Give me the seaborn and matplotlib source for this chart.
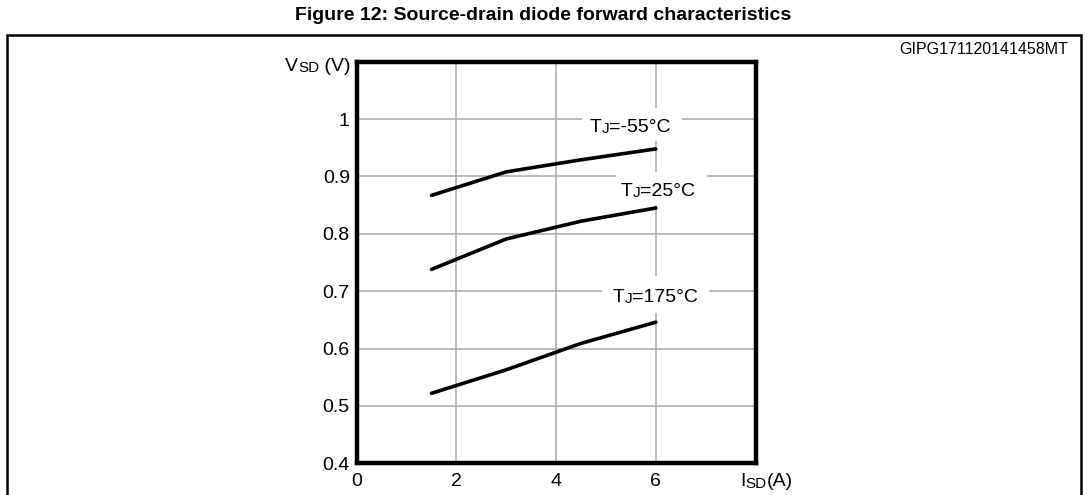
import matplotlib
matplotlib.use("Agg")
import matplotlib.pyplot as plt
from matplotlib.patches import Rectangle
import seaborn as sns
import pandas as pd

# ---- data ----
isd = [1.5, 3.0, 4.5, 6.0]
vsd_m55 = [0.867, 0.908, 0.929, 0.948]
vsd_25 = [0.738, 0.791, 0.822, 0.845]
vsd_175 = [0.522, 0.563, 0.609, 0.646]
series_names = ["-55", "25", "175"]
x_ticks = [0, 2, 4, 6]
y_ticks = [0.4, 0.5, 0.6, 0.7, 0.8, 0.9, 1.0]
y_tick_labels = ["0.4", "0.5", "0.6", "0.7", "0.8", "0.9", "1"]

df = pd.DataFrame({
    "ISD": isd * 3,
    "VSD": vsd_m55 + vsd_25 + vsd_175,
    "Tj": [series_names[0]] * 4 + [series_names[1]] * 4 + [series_names[2]] * 4,
})

sns.set_theme(style="white")
plt.rcParams["font.family"] = ["Liberation Sans", "DejaVu Sans"]

BIG = 14
SMALL = 11

W, H = 1087, 495
fig = plt.figure(figsize=(W / 100, H / 100), dpi=100)
ax = fig.add_axes([356.7 / W, 1 - 463.3 / H, (755.5 - 356.7) / W, (463.3 - 61.7) / H])

sns.lineplot(data=df, x="ISD", y="VSD", hue="Tj", palette=["black"] * 3,
             linewidth=2.6, legend=False, ax=ax, zorder=5)

ax.set_xlim(0, 8)
ax.set_ylim(0.4, 1.1)
ax.set_xticks(x_ticks)
ax.set_xticklabels([str(v) for v in x_ticks])
ax.set_yticks(y_ticks)
ax.set_yticklabels(y_tick_labels)
ax.tick_params(length=0, labelsize=BIG, colors="black")
ax.tick_params(axis="x", pad=7)
ax.tick_params(axis="y", pad=5)
ax.set_xlabel("")
ax.set_ylabel("")
ax.grid(True, color="#a8a8a8", linewidth=1.1)
ax.set_axisbelow(True)
for s in ax.spines.values():
    s.set_visible(True)
    s.set_color("black")
    s.set_linewidth(3.2)
    s.set_capstyle("projecting")
    s.set_zorder(10)

# outer frame
fig.add_artist(Rectangle((7 / W, -0.05), (1081 - 7) / W, 1 - 35 / H + 0.05,
                         transform=fig.transFigure, fill=False,
                         edgecolor="black", linewidth=1.8, clip_on=False))

# title
fig.text(543 / W, 1 - 15 / H, "Figure 12: Source-drain diode forward characteristics",
         ha="center", va="center", fontsize=BIG, fontweight="bold", color="black")
fig.text(1068 / W, 1 - 50 / H, "GIPG171120141458MT", ha="right", va="center",
         fontsize=11.5, color="black")


def chain(first_artist, parts, **kw):
    prev = first_artist
    for txt, sz in parts:
        prev = ax.annotate(txt, xy=(1, 0), xycoords=prev, va="bottom", ha="left",
                           fontsize=sz, color="black", annotation_clip=False, **kw)
    return prev


# axis labels
t = fig.text(285 / W, 1 - 71.5 / H, "V", fontsize=BIG, va="baseline", color="black")
chain(t, [("SD", SMALL), (" (V)", BIG)])
t = fig.text(740 / W, 1 - 486.5 / H, "I", fontsize=BIG, va="baseline", color="black")
chain(t, [("SD", SMALL), ("(A)", BIG)])

# curve labels: (text x, baseline y, suffix, white box x0, x1, y0, y1 in data units)
labels = [
    (4.67, 0.977, "=-55°C", 4.51, 6.53, 0.962, 1.0197),
    (5.30, 0.8654, "=25°C", 5.20, 7.02, 0.850, 0.907),
    (5.13, 0.681, "=175°C", 4.93, 7.07, 0.662, 0.7265),
]
for lx, ly, rest, bx0, bx1, by0, by1 in labels:
    ax.add_patch(Rectangle((bx0, by0), bx1 - bx0, by1 - by0, facecolor="white",
                           edgecolor="none", zorder=2))
    t = ax.text(lx, ly, "T", fontsize=BIG, va="baseline", ha="left", color="black",
                zorder=4)
    chain(t, [("J", SMALL), (rest, BIG)], zorder=4)

fig.savefig("out.png", dpi=100, facecolor="white")
